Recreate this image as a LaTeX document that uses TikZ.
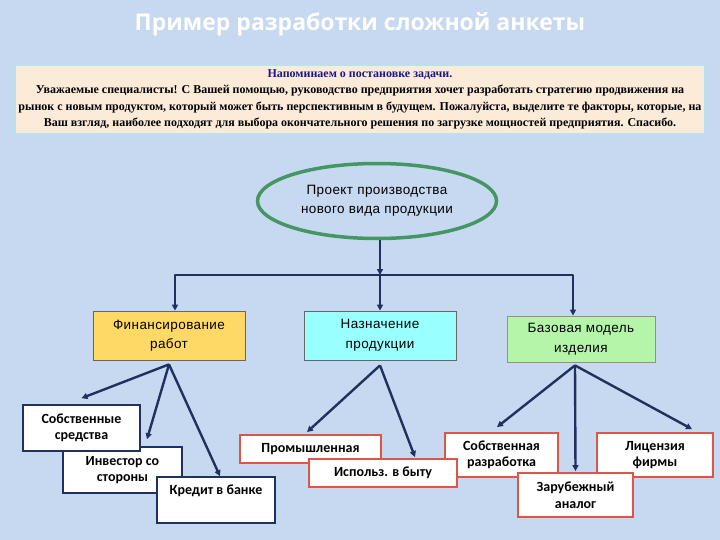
\documentclass[tikz,border=0pt]{standalone}
\usepackage{fontspec}
\setmainfont{Liberation Serif}
\newfontfamily\titlefont{Open Sans}
\newfontfamily\boxfont[LetterSpace=3]{Liberation Sans}
\newfontfamily\smallfont{Carlito}
\usetikzlibrary{arrows.meta,shapes.geometric,calc}
\definecolor{bgblue}{RGB}{198,217,240}
\definecolor{navy}{RGB}{31,50,95}
\definecolor{projgreen}{RGB}{70,150,100}
\definecolor{finfill}{RGB}{255,217,102}
\definecolor{nazfill}{RGB}{153,255,255}
\definecolor{bazfill}{RGB}{180,245,170}
\definecolor{boxred}{RGB}{225,85,70}
\definecolor{notepeach}{RGB}{253,235,217}
\definecolor{notecyan}{RGB}{183,226,240}
\definecolor{notehead}{RGB}{25,25,140}

\begin{document}
\begin{tikzpicture}[x=1pt,y=-1pt,
		conn/.style={draw=navy,line width=2.4pt,line join=round,-{Triangle[length=6pt,width=6pt]}},
		topbox/.style={draw=black!60,line width=0.8pt,inner sep=0pt,align=center,
			font=\boxfont\fontsize{13.5}{19.5}\selectfont},
		navybox/.style={draw=navy,fill=white,line width=1.6pt,inner sep=0pt,align=center,
			font=\smallfont\bfseries\fontsize{14}{16.5}\selectfont},
		redbox/.style={draw=boxred,fill=white,line width=1.8pt,inner sep=0pt,align=center,
			font=\smallfont\bfseries\fontsize{14}{16.5}\selectfont}]
				\fill[bgblue] (0,0) rectangle (720,540);
				\node[text=white,font=\titlefont\bfseries\fontsize{23}{27}\selectfont] (title) at (360,24) {Пример разработки сложной анкеты};
				\node[draw=notecyan,line width=2pt,fill=notepeach,minimum width=690pt,minimum height=69pt,inner sep=0pt,align=center,
					font=\bfseries\fontsize{12}{16.5}\selectfont] (note) at (360,99.5)
					{\textcolor{notehead}{Напоминаем о постановке задачи.}\\
					Уважаемые специалисты! С Вашей помощью, руководство предприятия хочет разработать стратегию продвижения на\\
					рынок с новым продуктом, который может быть перспективным в будущем. Пожалуйста, выделите те факторы, которые, на\\
					Ваш взгляд, наиболее подходят для выбора окончательного решения по загрузке мощностей предприятия. Спасибо.};
				\node[ellipse,draw=projgreen,line width=3.5pt,minimum width=239pt,minimum height=75pt,inner sep=0pt,align=center,
					font=\boxfont\fontsize{13.5}{19.5}\selectfont] (proj) at (377,201) {Проект производства\\нового вида продукции};
				\node[topbox,fill=finfill,minimum width=152pt,minimum height=49pt] (fin) at (169,335.5) {Финансирование\\работ};
				\node[topbox,fill=nazfill,minimum width=152pt,minimum height=49pt] (naz) at (380,335.5) {Назначение\\продукции};
				\node[topbox,fill=bazfill,draw=brown!50!black!60,minimum width=148pt,minimum height=46pt] (baz) at (581,339) {Базовая модель\\изделия};
				\node[navybox,minimum width=119pt,minimum height=46pt] (inv) at (122.5,470) {Инвестор со\\стороны};
				\node[navybox,minimum width=117pt,minimum height=46pt] (own) at (81.5,428) {Собственные\\средства};
				\node[navybox,minimum width=118pt,text height=17pt,text depth=29pt] (kred) at (216,500) {Кредит в банке};
				\node[redbox,minimum width=141pt,minimum height=28pt] (prom) at (310.5,449) {Промышленная};
				\node[redbox,minimum width=113pt,minimum height=44pt] (sob) at (501.5,455) {Собственная\\разработка};
				\node[redbox,minimum width=148pt,minimum height=28pt] (isp) at (383,473) {Использ. в быту};
				\node[redbox,minimum width=116pt,minimum height=44pt] (lic) at (655,455) {Лицензия\\фирмы};
				\node[redbox,minimum width=115pt,minimum height=44pt] (zar) at (575.5,495) {Зарубежный\\аналог};
				\coordinate (bus) at (380,275);
				\draw[conn] (proj.south -| bus) -- (bus);
				\draw[conn] (bus) -- (naz.north);
				\draw[conn] (bus) -| ([xshift=6pt]fin.north);
				\draw[conn] (bus) -| ([xshift=-8pt]baz.north);
				\draw[conn] ([yshift=-4pt]fin.south) -- ([yshift=6pt]own.north);
				\draw[conn] ([yshift=-4pt]fin.south) -- ([xshift=24.5pt,yshift=7pt]inv.north);
				\draw[conn] ([yshift=-4pt]fin.south) -- ([xshift=4pt]kred.north);
				\draw[conn] ([yshift=-5pt]naz.south) -- ([xshift=-3.5pt,yshift=2pt]prom.north);
				\draw[conn] ([yshift=-5pt]naz.south) -- ([xshift=32pt,yshift=1pt]isp.north);
				\draw[conn] ([xshift=-6pt,yshift=-3pt]baz.south) -- ([xshift=-4.5pt,yshift=5pt]sob.north);
				\draw[conn] ([xshift=-6pt,yshift=-3pt]baz.south) -- ([yshift=1pt]zar.north);
				\draw[conn] ([xshift=-6pt,yshift=-3pt]baz.south) -- ([xshift=37pt,yshift=3pt]lic.north);
			\end{tikzpicture}
\end{document}
